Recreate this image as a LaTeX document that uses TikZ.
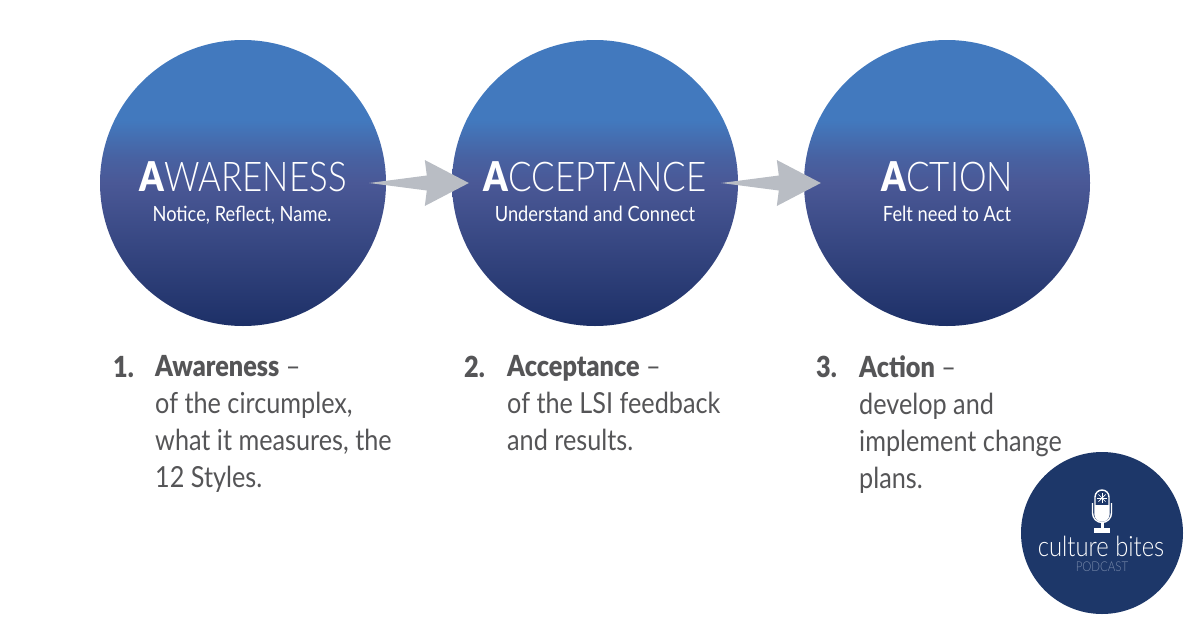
\documentclass[tikz,border=0pt]{standalone}
\usepackage{fontspec}
\setmainfont{Lato}[FakeStretch=0.85,UprightFont=* Light,BoldFont=* Black]
\newfontfamily\bodyfont{Lato}[FakeStretch=0.87,BoldFont=* Black]
\definecolor{stepblue}{RGB}{66, 121, 190}
\definecolor{stepmid}{RGB}{74, 88, 150}
\definecolor{stepnavy}{RGB}{29, 48, 103}
\definecolor{arrowgrey}{RGB}{185, 189, 196}
\definecolor{captiongrey}{RGB}{85, 85, 87}
\definecolor{badgeblue}{RGB}{29, 55, 105}
\definecolor{badgegrey}{RGB}{120, 137, 170}
\pgfdeclareverticalshading{stepshade}{100bp}{
  color(0bp)=(stepnavy); color(25bp)=(stepnavy); color(50bp)=(stepmid);
  color(54.5bp)=(stepmid!70!stepblue); color(61bp)=(stepblue); color(75bp)=(stepblue); color(100bp)=(stepblue)}
\tikzset{
  stepcircle/.style={circle, minimum size=286pt, inner sep=0pt, shading=stepshade},
  steptitle/.style={anchor=base, text=white, inner sep=0pt, font=\fontsize{41}{41}\selectfont},
  stepnote/.style={anchor=base, text=white, inner sep=0pt, font=\bodyfont\fontsize{21}{21}\selectfont},
  numlabel/.style={anchor=base west, inner sep=0pt, text=captiongrey, font=\bodyfont\bfseries\fontsize{29}{37}\selectfont},
  caption/.style={anchor=north west, inner sep=0pt, align=left, text=captiongrey, font=\bodyfont\fontsize{29}{37}\selectfont}
}
\begin{document}
\begin{tikzpicture}[x=1pt, y=-1pt]
    \useasboundingbox (0,0) rectangle (1200,627);

    % Three step circles
    \node[stepcircle] (awareness) at (243,183) {};
    \node[stepcircle] (acceptance) at (595,183) {};
    \node[stepcircle] (action) at (947,183) {};

    % Titles and short notes inside the circles
    \node[steptitle] (awarenesstitle) at (243,191) {\textbf{A}WARENESS};
    \node[stepnote] (awarenessnote) at (242,221) {Notice, Reflect, Name.};
    \node[steptitle] (acceptancetitle) at (595,191) {\textbf{A}CCEPTANCE};
    \node[stepnote] (acceptancenote) at (595,221) {Understand and Connect};
    \node[steptitle] (actiontitle) at (947,191) {\textbf{A}CTION};
    \node[stepnote] (actionnote) at (947,221) {Felt need to Act};

    % Grey arrows between the circles
    \foreach \from/\to in {awareness/acceptance, acceptance/action} {
        \coordinate (tail) at ([xshift=-17pt]\from.east);
        \coordinate (tip) at ([xshift=17pt]\to.west);
        \fill[arrowgrey] (tail) -- ([xshift=-42pt,yshift=7.5pt]tip) -- ([xshift=-44pt,yshift=23pt]tip)
            -- (tip) -- ([xshift=-44pt,yshift=-23pt]tip) -- ([xshift=-42pt,yshift=-7.5pt]tip) -- cycle;
    }

    % Numbered captions
    \node[numlabel] (numone) at (113,377) {1.};
    \node[caption] (captionone) at (155,355) {\textbf{Awareness} –\\of the circumplex,\\what it measures, the\\12 Styles.};
    \node[numlabel] (numtwo) at (464,377) {2.};
    \node[caption] (captiontwo) at (507,355) {\textbf{Acceptance} –\\of the LSI feedback\\and results.};
    \node[numlabel] (numthree) at (816,377) {3.};
    \node[caption] (captionthree) at (859,355) {\textbf{Action} –\\develop and\\implement change\\plans.};

    % Podcast badge
    \node[circle, fill=badgeblue, minimum size=162pt, inner sep=0pt] (badge) at (1102,533) {};
    \node[anchor=base, text=white, inner sep=0pt, font=\fontsize{28}{28}\selectfont] (badgetitle) at (1101,556) {culture bites};
    \node[anchor=base, text=badgegrey, inner sep=0pt, font=\fontsize{13.5}{13.5}\selectfont] (badgesub) at (1102,571) {PODCAST};

    % Microphone
    \fill[white] (1095,505) -- (1109,505) -- (1109,514) arc (0:180:7) -- cycle;
    \draw[white, line width=1.4pt] (1095,505) -- (1095,497) arc (180:360:7) -- (1109,514) arc (0:180:7) -- cycle;
    \draw[white, line width=1.4pt] (1092.5,503) -- (1092.5,513) arc (180:0:9.5) -- (1111.5,503);
    \fill[white] (1100.5,522) rectangle (1103.5,529);
    \fill[white] (1094,528) rectangle (1110,533);
    \foreach \ang in {0,45,...,315} {
        \draw[white, line width=0.7pt] (1102,498) -- ++(\ang:5);
    }
\end{tikzpicture}
\end{document}
